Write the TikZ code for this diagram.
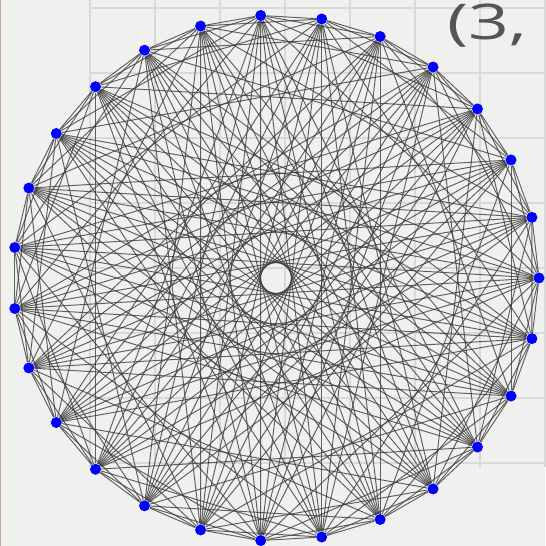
\documentclass[tikz,border=0pt]{standalone}
\usepackage{fontspec}
\setsansfont{Open Sans}
\usetikzlibrary{backgrounds,calc}
\definecolor{paper}{HTML}{F0F0EE}
\definecolor{gridgray}{HTML}{D9D9D7}
\definecolor{edgegray}{HTML}{3C3C3C}
\definecolor{titlegray}{HTML}{555555}
\definecolor{rimbrown}{HTML}{C9A896}
\pgfdeclarelayer{paperlayer}
\pgfdeclarelayer{edgelayer}
\pgfsetlayers{paperlayer,edgelayer,main}

\begin{document}
\begin{tikzpicture}[x=0.02cm, y=-0.02cm,
  vertex/.style={circle, fill=blue, inner sep=0pt, minimum size=0.22cm},
  edge/.style={draw=edgegray, line width=0.55pt, opacity=0.8}]
  \useasboundingbox (0,0) rectangle (545,546);
  % sheet of paper with its grid
  \begin{pgfonlayer}{paperlayer}
    \fill[paper] (0,0) rectangle (545,546);
    \draw[rimbrown, line width=0.8pt] (0.5,0) -- (0.5,546);
    \foreach \gx in {90,155,...,545}
      \draw[gridgray, line width=0.6pt] (\gx,0) -- (\gx,467);
    \foreach \gy in {8,73,...,467}
      \draw[gridgray, line width=0.6pt] (90,\gy) -- (545,\gy);
  \end{pgfonlayer}
  \node[anchor=base west, font=\sffamily\fontsize{28}{30}\selectfont, text=titlegray, inner sep=0pt] (title) at (447,40) {\scalebox{1.45}[1]{(3,}};
  % 27 vertices on the circle
  \foreach \i in {0,...,26}
    \node[vertex] (v\i) at ($(276,278)+(\i*360/27:263 and -263)$) {};
  % circulant edges
  \begin{pgfonlayer}{edgelayer}
    \foreach \i in {0,...,26}
      \foreach \k in {1,2,4,7,10,11,12,13} {
        \pgfmathtruncatemacro{\j}{mod(\i+\k,27)}
        \draw[edge] (v\i) -- (v\j);
      }
  \end{pgfonlayer}
\end{tikzpicture}
\end{document}
